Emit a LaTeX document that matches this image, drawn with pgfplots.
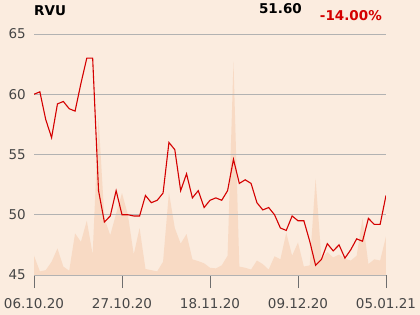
\documentclass[border=0pt]{standalone}
\usepackage{fontspec}
\setmainfont{DejaVu Sans}
\usepackage{pgfplots}
\pgfplotsset{compat=1.18}
\usepackage{pgfplotstable}
\definecolor{bgc}{RGB}{251,236,223}
\definecolor{areac}{RGB}{248,218,196}
\definecolor{linec}{RGB}{212,0,0}
\definecolor{gridc}{RGB}{178,178,178}
\definecolor{tickc}{RGB}{110,110,110}
\definecolor{labc}{RGB}{70,70,70}
\pgfplotstableread{
x y
0 60.0
1 60.2
2 57.9
3 56.4
4 59.2
5 59.4
6 58.8
7 58.6
8 60.9
9 63.0
10 63.0
11 52.0
12 49.4
13 49.9
14 52.0
15 50.0
16 50.0
17 49.9
18 49.9
19 51.6
20 51.0
21 51.2
22 51.8
23 56.0
24 55.4
25 52.0
26 53.4
27 51.4
28 52.0
29 50.6
30 51.2
31 51.4
32 51.2
33 52.0
34 54.6
35 52.6
36 52.9
37 52.6
38 51.0
39 50.4
40 50.6
41 50.0
42 48.9
43 48.7
44 49.9
45 49.5
46 49.5
47 47.8
48 45.8
49 46.3
50 47.6
51 47.0
52 47.5
53 46.4
54 47.1
55 48.0
56 47.8
57 49.7
58 49.2
59 49.2
60 51.6
}\pricedata
\pgfplotstableread{
x v
0 45
0 46.6
1 45.3
2 45.4
3 46.1
4 47.2
5 45.7
6 45.35
7 48.45
8 47.75
9 49.5
10 46.7
11 58.0
12 49.7
13 48.3
14 50.1
15 51.8
16 50.0
17 46.7
18 48.9
19 45.5
20 45.4
21 45.3
22 46.1
23 51.85
24 48.9
25 47.6
26 48.4
27 46.3
28 46.15
29 45.97
30 45.6
31 45.55
32 45.8
33 46.6
34 62.7
35 45.7
36 45.6
37 45.45
38 46.2
39 45.9
40 45.45
41 46.55
42 46.3
43 48.5
44 46.6
45 47.7
46 45.7
47 45.8
48 53.0
49 46.3
50 46.9
51 46.45
52 46.7
53 46.35
54 46.2
55 46.6
56 49.7
57 45.9
58 46.3
59 46.2
60 48.2
60 45
}\voldata
\begin{document}
\fontsize{13.5bp}{16bp}\selectfont
\begin{tikzpicture}
\fill[bgc] (0,0) rectangle (420bp,315bp);
\path[use as bounding box] (0,0) rectangle (420bp,315bp);
\begin{axis}[
  at={(34bp,40bp)}, anchor=south west,
  scale only axis, width=352bp, height=241bp,
  xmin=0, xmax=60, ymin=45, ymax=65,
  hide axis,
]
\addplot[fill=areac, draw=none] table[x=x, y=v] {\voldata} -- cycle;
\end{axis}
\begin{axis}[
  at={(34bp,40bp)}, anchor=south west,
  scale only axis, width=352bp, height=241bp,
  xmin=0, xmax=60, ymin=45, ymax=65,
  axis lines=left, axis line style={-},
  x axis line style={draw=gridc, line width=0.9bp},
  y axis line style={draw=none},
  xtick={0,15,30,45,60},
  xticklabels={06.10.20,27.10.20,18.11.20,09.12.20,05.01.21},
  ytick={45,50,55,60,65},
  tick align=outside,
  major tick length=13bp,
  xtick style={draw=tickc, line width=0.9bp},
  ytick style={draw=none},
  ymajorgrids,
  grid style={draw=gridc, line width=0.9bp},
  /pgf/number format/assume math mode=true,
  tick label style={font=\fontsize{13.5bp}{16bp}\selectfont, text=labc},
  yticklabel style={anchor=east, inner sep=0pt, xshift=5bp},
  xticklabel style={anchor=north, inner sep=0pt, yshift=-10bp},
]
\addplot[color=linec, line width=1.1bp, mark=none] table[x=x, y=y] {\pricedata};
\end{axis}
\node[anchor=base west, inner sep=0pt, font=\bfseries] at (34bp,299.5bp) {RVU};
\node[anchor=base east, inner sep=0pt, font=\bfseries] at (302bp,301bp) {51.60};
\node[anchor=base east, inner sep=0pt, font=\bfseries, text=linec] at (382bp,294bp) {-14.00\%};
\end{tikzpicture}
\end{document}
